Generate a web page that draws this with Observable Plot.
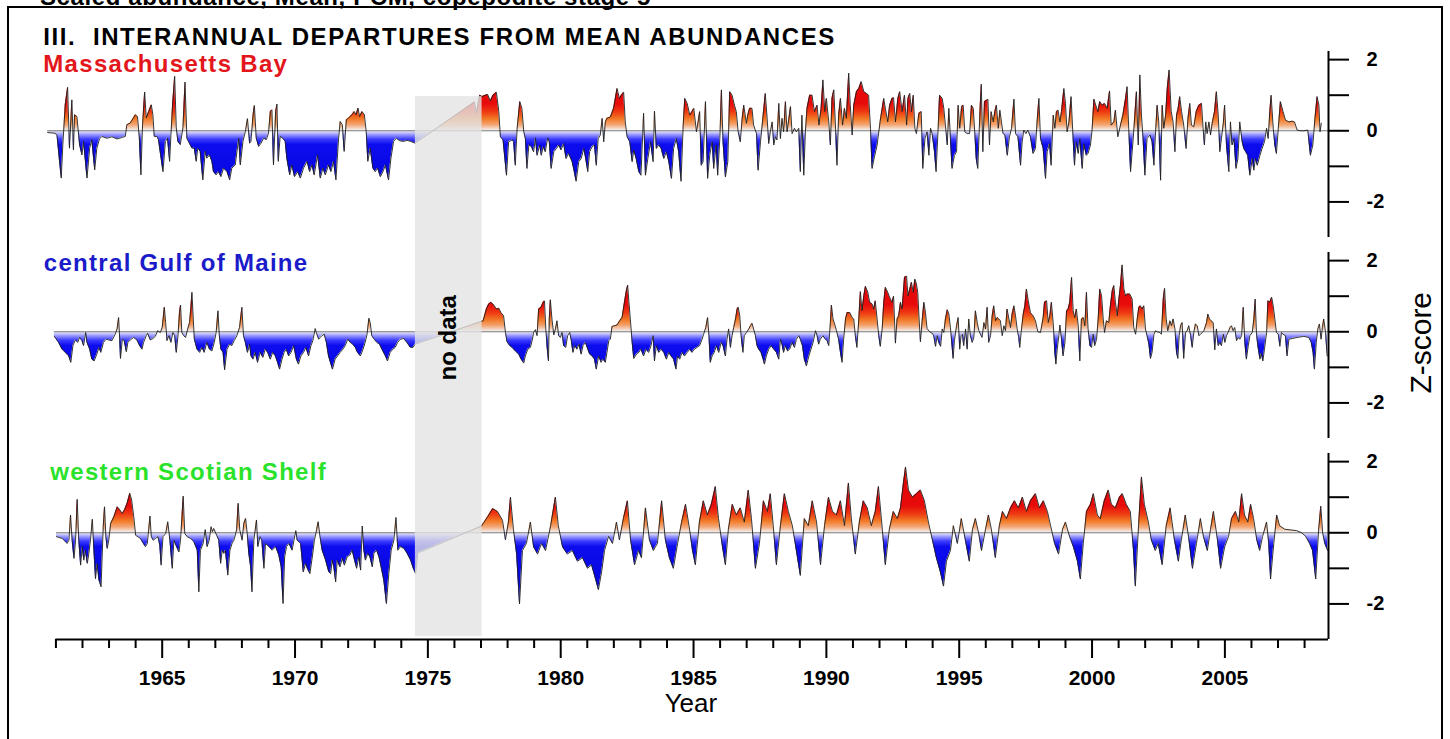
<!DOCTYPE html>
<html>
<head>
<meta charset="utf-8">
<script src="https://cdn.jsdelivr.net/npm/d3@7"></script>
<script src="https://cdn.jsdelivr.net/npm/@observablehq/plot@0.6"></script>
<style>
  html, body { margin: 0; padding: 0; background: #fff; }
  #page { position: relative; width: 1450px; height: 739px; overflow: hidden; font-family: "Liberation Sans", Arial, sans-serif; }
  #frame { position: absolute; left: 7px; top: 6px; width: 1436px; height: 800px; border: 2px solid #000; box-sizing: border-box; pointer-events: none; }
  #chart { position: absolute; left: 0; top: 0; }
  #header { position: absolute; left: 40px; top: -15px; font-size: 24px; line-height: 1; font-weight: bold; letter-spacing: 0.6px; white-space: nowrap; color: #000; }
</style>
</head>
<body>
<div id="page">
  <div id="header">Scaled abundance, Mean, PCM, copepodite stage 5</div>
  <div id="chart"></div>
  <div id="frame"></div>
</div>
<script>
// ---- data -------------------------------------------------------------
const panels = ["Massachusetts Bay", "central Gulf of Maine", "western Scotian Shelf"];
const panelColors = ["#e3171b", "#1b1bc9", "#2be22b"];
const gapYears = [1974.53, 1977.04];           // period without samples
const yTicks = [-2, -1, 0, 1, 2];
const yLabelTicks = [-2, 0, 2];
const majorYears = [1965, 1970, 1975, 1980, 1985, 1990, 1995, 2000, 2005];
const firstYear = 1961;
const lastYear = 2008.9;

// Z-score departures, [decimal year, z]
const massBay = [
  [1960.69,-0.05],[1960.97,-0.07],[1961.04,-0.13],[1961.20,-1.33],[1961.26,-0.39],[1961.35,0.73],[1961.44,1.22],[1961.51,-0.49],[1961.60,0.87],[1961.66,-0.54],[1961.70,0.45],[1961.79,0.40],[1961.89,-0.39],[1961.98,-0.68],[1962.04,-0.30],[1962.17,-1.33],[1962.27,-0.49],[1962.35,-0.25],[1962.46,-1.10],[1962.54,-0.49],[1962.64,-0.23],[1962.73,-0.16],[1962.92,-0.21],[1963.11,-0.17],[1963.30,-0.23],[1963.48,-0.19],[1963.61,-0.16],[1963.67,0.17],[1963.80,0.22],[1963.99,0.45],[1964.07,0.40],[1964.14,-0.21],[1964.20,-1.24],[1964.26,0.17],[1964.34,1.09],[1964.40,0.36],[1964.49,0.54],[1964.59,0.73],[1964.65,0.45],[1964.70,-0.16],[1964.80,-0.16],[1964.86,-0.25],[1965.03,-1.15],[1965.12,-0.30],[1965.20,-0.21],[1965.28,-0.86],[1965.33,-0.11],[1965.39,0.73],[1965.47,1.53],[1965.53,0.08],[1965.59,-0.30],[1965.68,-0.39],[1965.78,0.08],[1965.86,1.37],[1965.93,-0.21],[1965.99,-0.30],[1966.12,-0.49],[1966.21,-0.49],[1966.28,-0.86],[1966.34,-0.49],[1966.43,-0.58],[1966.53,-1.38],[1966.62,-0.58],[1966.68,-0.77],[1966.78,-0.68],[1966.87,-0.86],[1966.93,-1.15],[1967.03,-1.24],[1967.12,-1.15],[1967.21,-1.29],[1967.31,-1.05],[1967.44,-1.15],[1967.54,-1.38],[1967.62,-1.05],[1967.75,-0.96],[1967.88,-0.21],[1967.94,-0.96],[1968.04,-0.30],[1968.13,-0.02],[1968.21,0.34],[1968.29,-0.35],[1968.34,-0.30],[1968.42,0.45],[1968.47,0.71],[1968.54,-0.21],[1968.63,-0.44],[1968.72,-0.35],[1968.82,-0.21],[1968.92,-0.25],[1969.00,-0.07],[1969.07,0.54],[1969.13,0.59],[1969.19,-0.96],[1969.27,0.54],[1969.32,0.75],[1969.37,-0.86],[1969.44,-0.16],[1969.54,-0.21],[1969.63,-0.30],[1969.69,-0.77],[1969.80,-1.24],[1969.88,-0.96],[1969.98,-1.29],[1970.10,-1.15],[1970.20,-1.33],[1970.32,-1.05],[1970.45,-0.86],[1970.55,-1.15],[1970.64,-0.96],[1970.72,-1.24],[1970.85,-0.68],[1970.95,-1.33],[1971.05,-1.05],[1971.14,-1.24],[1971.26,-0.96],[1971.35,-1.15],[1971.45,-0.86],[1971.54,-1.38],[1971.64,-0.21],[1971.70,0.26],[1971.78,0.17],[1971.85,-0.58],[1971.93,0.31],[1972.02,0.36],[1972.14,0.45],[1972.23,0.54],[1972.30,0.45],[1972.37,0.64],[1972.43,0.40],[1972.52,0.54],[1972.61,0.45],[1972.68,-0.02],[1972.74,-0.86],[1972.83,-0.49],[1972.93,-1.05],[1973.02,-1.15],[1973.11,-1.05],[1973.21,-1.29],[1973.31,-1.15],[1973.40,-0.96],[1973.52,-1.38],[1973.61,-0.77],[1973.71,-0.30],[1973.81,-0.21],[1973.94,-0.28],[1974.09,-0.30],[1974.21,-0.27],[1974.36,-0.30],[1974.52,-0.35],
  [1976.75,0.81],[1976.83,0.50],[1976.95,1.00],[1977.04,0.96],[1977.16,1.00],[1977.25,1.02],[1977.35,0.84],[1977.45,1.00],[1977.58,1.08],[1977.67,0.54],[1977.73,-0.17],[1977.83,-0.26],[1977.96,-1.25],[1978.04,-0.31],[1978.17,-0.26],[1978.23,-0.31],[1978.29,-0.97],[1978.36,0.07],[1978.46,0.82],[1978.54,0.63],[1978.61,-0.03],[1978.67,-0.22],[1978.73,-1.06],[1978.80,-0.40],[1978.90,-0.45],[1978.98,-0.59],[1979.05,-0.20],[1979.11,-0.69],[1979.21,-0.40],[1979.27,-0.69],[1979.34,-0.45],[1979.42,-0.59],[1979.51,-0.20],[1979.57,-0.31],[1979.64,-1.06],[1979.74,-0.59],[1979.84,-0.50],[1979.93,-0.40],[1980.01,-0.54],[1980.11,-0.36],[1980.20,-0.78],[1980.30,-0.64],[1980.43,-0.87],[1980.51,-1.15],[1980.58,-1.42],[1980.68,-0.87],[1980.77,-0.78],[1980.87,-0.50],[1980.94,-0.78],[1981.02,-1.15],[1981.09,-0.59],[1981.18,-0.45],[1981.27,-0.40],[1981.34,-0.97],[1981.41,-0.22],[1981.49,-0.12],[1981.56,0.35],[1981.62,-0.31],[1981.68,0.25],[1981.74,0.35],[1981.87,0.39],[1981.99,0.63],[1982.12,1.19],[1982.21,0.91],[1982.28,1.00],[1982.37,1.08],[1982.43,0.25],[1982.50,-0.17],[1982.60,-0.31],[1982.69,-0.87],[1982.75,-0.54],[1982.84,-0.78],[1982.94,-1.15],[1983.02,-1.25],[1983.12,0.49],[1983.19,-1.25],[1983.28,-0.78],[1983.38,-0.31],[1983.48,-0.87],[1983.53,0.55],[1983.60,-0.50],[1983.69,-0.40],[1983.78,-0.50],[1983.88,-0.78],[1983.98,-0.59],[1984.07,-0.87],[1984.17,-1.34],[1984.25,-0.50],[1984.35,-0.22],[1984.44,-0.59],[1984.53,-1.42],[1984.61,0.16],[1984.67,0.91],[1984.76,0.77],[1984.86,0.44],[1984.94,0.54],[1985.01,0.63],[1985.11,-0.03],[1985.17,0.25],[1985.23,0.54],[1985.29,-0.97],[1985.36,-0.87],[1985.45,0.82],[1985.53,-1.34],[1985.61,-0.69],[1985.70,-0.31],[1985.76,-1.06],[1985.85,-0.40],[1985.91,-1.25],[1985.99,-0.22],[1986.05,1.15],[1986.11,-0.31],[1986.20,-1.30],[1986.29,-0.87],[1986.36,1.10],[1986.45,1.00],[1986.54,0.72],[1986.61,0.54],[1986.68,-0.03],[1986.76,-0.31],[1986.83,0.35],[1986.89,0.72],[1986.99,0.21],[1987.04,0.44],[1987.11,0.63],[1987.20,0.63],[1987.26,0.16],[1987.37,-0.08],[1987.43,-1.11],[1987.52,-0.31],[1987.62,0.44],[1987.70,1.05],[1987.77,0.35],[1987.83,-0.36],[1987.89,-0.03],[1987.96,0.25],[1988.02,-0.40],[1988.08,-0.17],[1988.14,-0.26],[1988.21,0.77],[1988.27,-0.22],[1988.33,0.35],[1988.39,-0.03],[1988.46,0.82],[1988.52,-0.03],[1988.58,0.30],[1988.65,0.68],[1988.71,-0.08],[1988.80,0.07],[1988.87,-0.03],[1988.96,0.07],[1989.02,-1.15],[1989.08,0.44],[1989.15,-1.25],[1989.21,-0.03],[1989.27,0.63],[1989.37,1.00],[1989.46,1.00],[1989.55,0.54],[1989.65,0.72],[1989.72,0.16],[1989.80,0.63],[1989.87,1.43],[1989.94,0.54],[1990.00,0.91],[1990.09,0.25],[1990.15,-0.40],[1990.21,0.91],[1990.28,1.15],[1990.34,0.16],[1990.40,-0.97],[1990.46,0.44],[1990.53,0.91],[1990.61,0.16],[1990.68,0.63],[1990.75,0.35],[1990.84,1.62],[1990.90,0.72],[1990.97,-0.12],[1991.03,0.72],[1991.13,1.10],[1991.22,1.19],[1991.31,1.38],[1991.41,1.10],[1991.51,1.05],[1991.59,1.00],[1991.66,0.07],[1991.72,-1.06],[1991.81,-0.73],[1991.91,-0.40],[1992.03,0.30],[1992.16,0.91],[1992.22,0.63],[1992.31,0.25],[1992.38,0.72],[1992.47,0.91],[1992.53,0.93],[1992.60,0.25],[1992.69,0.91],[1992.76,1.10],
  [1992.85,0.54],[1992.94,1.00],[1993.02,0.16],[1993.07,0.91],[1993.14,1.05],[1993.20,0.54],[1993.27,1.00],[1993.33,0.07],[1993.39,-0.08],[1993.48,0.49],[1993.57,0.54],[1993.63,-1.06],[1993.71,-0.22],[1993.79,-0.03],[1993.86,-0.69],[1993.92,0.07],[1993.98,-0.08],[1994.07,-0.59],[1994.13,-1.15],[1994.20,-0.03],[1994.26,1.00],[1994.36,0.91],[1994.42,0.63],[1994.48,0.16],[1994.55,-0.40],[1994.61,0.63],[1994.67,-0.22],[1994.73,-1.06],[1994.82,-0.69],[1994.90,-0.59],[1994.96,0.72],[1995.02,0.07],[1995.09,0.68],[1995.15,0.72],[1995.21,-0.03],[1995.30,-0.08],[1995.39,-0.08],[1995.46,0.72],[1995.53,0.63],[1995.58,0.02],[1995.64,-0.78],[1995.70,-1.06],[1995.78,0.54],[1995.83,1.31],[1995.89,-0.59],[1995.95,0.82],[1996.03,0.86],[1996.08,0.88],[1996.14,-0.40],[1996.20,0.54],[1996.28,0.25],[1996.34,0.54],[1996.40,0.72],[1996.47,0.07],[1996.53,0.58],[1996.59,0.25],[1996.65,-0.08],[1996.72,-0.12],[1996.81,-0.69],[1996.89,-0.17],[1996.97,0.07],[1997.06,0.89],[1997.12,-0.08],[1997.21,-0.17],[1997.31,-0.97],[1997.37,-0.31],[1997.43,0.02],[1997.51,-0.08],[1997.58,0.02],[1997.68,-0.17],[1997.78,-0.64],[1997.87,-0.50],[1997.93,0.25],[1998.00,0.91],[1998.06,-0.22],[1998.16,-0.50],[1998.25,-1.34],[1998.31,-0.59],[1998.40,-0.36],[1998.46,-0.97],[1998.54,0.44],[1998.60,0.07],[1998.66,0.54],[1998.72,0.58],[1998.79,0.25],[1998.85,0.54],[1998.94,1.19],[1999.00,0.77],[1999.06,-0.03],[1999.13,0.25],[1999.21,0.96],[1999.28,-0.12],[1999.34,-0.97],[1999.40,-0.31],[1999.48,-0.64],[1999.54,-0.22],[1999.63,-1.06],[1999.69,-0.36],[1999.78,-0.69],[1999.85,-0.64],[1999.94,-0.40],[2000.00,0.02],[2000.07,0.89],[2000.14,0.72],[2000.22,0.54],[2000.29,0.82],[2000.38,0.72],[2000.47,0.77],[2000.57,0.63],[2000.66,1.12],[2000.72,0.16],[2000.82,0.25],[2000.88,0.58],[2000.97,-0.17],[2001.07,0.16],[2001.16,0.44],[2001.26,0.91],[2001.32,1.24],[2001.38,0.07],[2001.45,-1.15],[2001.54,-0.31],[2001.61,0.44],[2001.67,1.10],[2001.74,-0.40],[2001.80,1.57],[2001.86,0.44],[2001.92,-0.22],[2001.99,-1.25],[2002.07,-0.22],[2002.18,-0.12],[2002.26,-0.31],[2002.33,-0.97],[2002.39,-0.03],[2002.45,0.72],[2002.51,0.25],[2002.58,-1.39],[2002.64,0.72],[2002.70,0.07],[2002.77,0.44],[2002.83,1.19],[2002.90,1.71],[2002.98,0.54],[2003.05,0.25],[2003.12,-0.59],[2003.18,0.44],[2003.24,0.63],[2003.30,0.96],[2003.37,0.54],[2003.45,0.16],[2003.54,-0.50],[2003.61,0.35],[2003.68,0.77],[2003.74,0.16],[2003.83,0.11],[2003.92,0.54],[2004.02,0.72],[2004.12,0.77],[2004.18,0.07],[2004.23,-0.40],[2004.28,0.25],[2004.33,-0.08],[2004.40,0.25],[2004.46,-0.12],[2004.52,0.21],[2004.61,0.54],[2004.68,1.10],[2004.75,0.44],[2004.81,-0.59],[2004.87,-0.22],[2004.94,0.21],[2004.99,0.72],[2005.06,-0.40],[2005.15,-1.15],[2005.21,0.25],[2005.27,-0.40],[2005.34,-0.22],[2005.42,-1.06],[2005.49,-0.78],[2005.56,0.25],[2005.65,-0.31],[2005.71,-0.50],[2005.78,-0.59],[2005.86,-0.69],[2005.94,-1.25],[2006.03,-0.78],[2006.09,-1.11],[2006.15,-0.78],[2006.22,-0.97],[2006.32,-0.69],[2006.40,-0.50],[2006.49,-0.31],[2006.57,0.07],[2006.63,-0.22],[2006.69,0.54],[2006.74,1.00],[2006.82,0.07],[2006.88,-0.40],[2006.94,-0.64],[2007.01,0.07],[2007.09,0.82],[2007.19,0.54],[2007.28,0.30],[2007.41,0.25],[2007.53,0.27],[2007.62,0.25],[2007.72,0.02],[2007.85,0.00],[2007.97,0.00],[2008.12,0.02],[2008.22,-0.69],[2008.31,-0.40],[2008.39,0.35],[2008.47,0.96],[2008.54,0.72],[2008.58,-0.03],[2008.63,0.21]
];

const gulfMaine = [
  [1960.94,-0.13],[1961.10,-0.30],[1961.23,-0.49],[1961.35,-0.58],[1961.48,-0.68],[1961.56,-0.86],[1961.64,-0.39],[1961.73,-0.23],[1961.82,-0.30],[1961.89,-0.16],[1961.98,-0.25],[1962.04,-0.39],[1962.12,-0.02],[1962.17,-0.30],[1962.27,-0.49],[1962.35,-0.77],[1962.44,-0.82],[1962.54,-0.63],[1962.62,-0.44],[1962.69,-0.58],[1962.79,-0.30],[1962.89,-0.21],[1962.98,-0.23],[1963.11,-0.25],[1963.23,-0.07],[1963.30,0.08],[1963.36,0.40],[1963.40,-0.21],[1963.43,-0.75],[1963.50,-0.21],[1963.57,-0.25],[1963.65,-0.56],[1963.71,-0.30],[1963.80,-0.23],[1963.92,-0.16],[1964.05,-0.23],[1964.15,-0.39],[1964.24,-0.49],[1964.30,-0.30],[1964.40,-0.11],[1964.45,-0.04],[1964.55,-0.23],[1964.65,-0.19],[1964.74,-0.13],[1964.83,0.03],[1964.93,-0.02],[1965.00,0.12],[1965.08,0.69],[1965.13,0.26],[1965.18,-0.25],[1965.25,-0.11],[1965.33,-0.30],[1965.40,-0.02],[1965.47,-0.11],[1965.53,-0.58],[1965.59,-0.16],[1965.65,0.54],[1965.69,0.75],[1965.74,-0.02],[1965.81,-0.11],[1965.88,-0.16],[1965.96,0.08],[1966.03,0.26],[1966.08,0.69],[1966.12,1.11],[1966.17,0.36],[1966.21,-0.21],[1966.31,-0.49],[1966.41,-0.58],[1966.50,-0.44],[1966.58,-0.58],[1966.68,-0.30],[1966.78,-0.49],[1966.87,-0.54],[1966.96,-0.30],[1967.03,-0.02],[1967.10,0.59],[1967.15,-0.11],[1967.21,-0.49],[1967.29,-0.58],[1967.35,-1.07],[1967.44,-0.49],[1967.54,-0.35],[1967.62,-0.39],[1967.71,-0.25],[1967.81,-0.11],[1967.91,0.12],[1968.00,0.69],[1968.06,-0.11],[1968.13,-0.30],[1968.21,-0.58],[1968.29,-0.35],[1968.34,-0.68],[1968.42,-0.77],[1968.50,-0.58],[1968.59,-0.86],[1968.69,-0.58],[1968.79,-0.72],[1968.88,-0.49],[1968.97,-0.58],[1969.07,-0.77],[1969.16,-0.58],[1969.26,-0.68],[1969.34,-0.86],[1969.42,-1.05],[1969.51,-0.77],[1969.59,-0.58],[1969.67,-0.49],[1969.76,-0.68],[1969.85,-0.58],[1969.95,-0.39],[1970.05,-0.77],[1970.13,-0.91],[1970.22,-0.68],[1970.32,-0.58],[1970.41,-0.44],[1970.51,-0.68],[1970.60,-0.39],[1970.67,-0.25],[1970.76,0.09],[1970.80,-0.02],[1970.89,-0.21],[1970.95,-0.16],[1971.01,-0.11],[1971.10,-0.07],[1971.18,-0.30],[1971.26,-0.68],[1971.33,-0.86],[1971.41,-1.05],[1971.51,-0.77],[1971.60,-0.68],[1971.70,-0.58],[1971.80,-0.49],[1971.89,-0.39],[1971.98,-0.21],[1972.08,-0.30],[1972.17,-0.35],[1972.27,-0.44],[1972.35,-0.58],[1972.46,-0.68],[1972.56,-0.49],[1972.64,-0.30],[1972.71,-0.07],[1972.78,0.38],[1972.83,0.26],[1972.89,-0.11],[1972.98,-0.21],[1973.08,-0.30],[1973.18,-0.35],[1973.27,-0.49],[1973.40,-0.68],[1973.48,-0.82],[1973.58,-0.58],[1973.68,-0.49],[1973.77,-0.44],[1973.86,-0.30],[1973.96,-0.21],[1974.09,-0.19],[1974.21,-0.30],[1974.34,-0.44],[1974.44,-0.44],[1974.52,-0.35],
  [1977.08,0.31],[1977.20,0.64],[1977.29,0.78],[1977.38,0.83],[1977.48,0.75],[1977.58,0.64],[1977.67,0.66],[1977.75,0.54],[1977.85,0.45],[1977.92,-0.02],[1977.98,-0.28],[1978.08,-0.39],[1978.17,-0.44],[1978.29,-0.54],[1978.42,-0.63],[1978.51,-0.77],[1978.61,-0.88],[1978.67,-0.68],[1978.76,-0.49],[1978.86,-0.44],[1978.93,-0.23],[1978.98,-0.02],[1979.05,0.06],[1979.11,-0.11],[1979.17,0.64],[1979.26,0.69],[1979.34,0.83],[1979.39,0.87],[1979.44,0.08],[1979.49,-0.44],[1979.54,-0.82],[1979.57,0.36],[1979.61,0.90],[1979.67,0.36],[1979.74,-0.09],[1979.80,0.08],[1979.86,0.31],[1979.92,-0.11],[1979.99,-0.16],[1980.05,-0.02],[1980.11,-0.39],[1980.19,-0.44],[1980.26,-0.11],[1980.34,-0.02],[1980.40,-0.25],[1980.46,-0.58],[1980.53,-0.39],[1980.61,-0.49],[1980.69,-0.35],[1980.77,-0.63],[1980.84,-0.39],[1980.93,-0.30],[1981.02,-0.49],[1981.09,-0.63],[1981.18,-0.68],[1981.27,-0.77],[1981.34,-1.05],[1981.43,-0.68],[1981.52,-0.86],[1981.59,-0.77],[1981.68,-0.86],[1981.74,-0.58],[1981.81,-0.25],[1981.87,-0.21],[1981.93,0.15],[1982.02,0.17],[1982.12,0.19],[1982.22,0.31],[1982.31,0.40],[1982.40,0.83],[1982.46,1.11],[1982.52,1.31],[1982.57,0.83],[1982.62,0.36],[1982.69,-0.30],[1982.75,-0.75],[1982.85,-0.63],[1982.94,-0.58],[1983.02,-0.49],[1983.12,-0.68],[1983.21,-0.49],[1983.31,-0.58],[1983.40,-0.39],[1983.48,-0.11],[1983.53,-0.82],[1983.60,-0.39],[1983.69,-0.58],[1983.78,-0.49],[1983.88,-0.58],[1983.98,-0.77],[1984.07,-0.58],[1984.15,-0.68],[1984.25,-0.77],[1984.34,-1.05],[1984.40,-0.68],[1984.48,-0.77],[1984.57,-0.58],[1984.66,-0.68],[1984.76,-0.58],[1984.86,-0.49],[1984.94,-0.58],[1985.03,-0.49],[1985.13,-0.44],[1985.23,-0.39],[1985.32,-0.21],[1985.38,-0.07],[1985.46,0.12],[1985.53,0.40],[1985.58,-0.11],[1985.63,-0.86],[1985.70,-0.68],[1985.78,-0.58],[1985.86,-0.39],[1985.95,-0.58],[1986.04,-0.30],[1986.11,-0.39],[1986.20,-0.68],[1986.26,-0.21],[1986.32,0.08],[1986.39,-0.44],[1986.45,-0.11],[1986.51,0.12],[1986.58,0.36],[1986.64,0.64],[1986.68,0.69],[1986.74,0.45],[1986.79,-0.11],[1986.86,-0.58],[1986.91,-0.11],[1986.99,-0.02],[1987.08,0.08],[1987.14,0.17],[1987.20,0.24],[1987.26,0.08],[1987.33,-0.11],[1987.39,-0.39],[1987.45,-0.49],[1987.54,-0.58],[1987.62,-0.77],[1987.67,-0.91],[1987.74,-0.68],[1987.83,-0.49],[1987.92,-0.39],[1988.02,-0.49],[1988.12,-0.58],[1988.21,-0.77],[1988.27,-0.21],[1988.33,-0.35],[1988.39,-0.58],[1988.46,-0.39],[1988.54,-0.54],[1988.62,-0.49],[1988.71,-0.30],[1988.80,-0.44],[1988.87,-0.21],[1988.96,-0.11],[1989.02,-0.21],[1989.10,-0.39],[1989.17,-0.77],[1989.25,-0.96],[1989.34,-0.68],[1989.42,-0.49],[1989.50,-0.30],[1989.59,0.03],[1989.65,-0.11],[1989.71,-0.35],[1989.77,-0.21],[1989.87,-0.11],[1989.96,-0.21],[1990.03,-0.25],[1990.09,-0.39],[1990.15,0.26],[1990.19,0.75],[1990.25,0.36],[1990.31,0.22],[1990.38,0.03],[1990.46,-0.21],[1990.53,-0.58],[1990.59,-0.86],[1990.65,-0.21],[1990.72,0.36],[1990.78,0.54],[1990.88,0.54],[1990.97,0.40],[1991.03,0.36],[1991.09,-0.11],[1991.15,-0.44],[1991.22,0.36],[1991.28,1.13],[1991.34,0.59],[1991.41,1.01],[1991.47,1.28],[1991.56,1.11],[1991.63,0.83],[1991.72,0.78],[1991.78,0.64],[1991.84,0.87],[1991.91,0.36],[1991.97,-0.11],[1992.03,-0.41],[1992.10,0.08],[1992.16,0.83],[1992.22,1.25],[1992.31,1.11],[1992.38,0.97],[1992.47,0.83],[1992.53,1.00],[1992.60,-0.32],[1992.66,0.36],[1992.72,0.45],[1992.79,0.83],
  [1992.85,0.64],[1992.94,1.53],[1993.02,1.56],[1993.07,1.01],[1993.14,1.20],[1993.20,1.39],[1993.27,1.11],[1993.33,1.48],[1993.39,1.34],[1993.44,1.11],[1993.49,0.36],[1993.54,-0.28],[1993.61,0.36],[1993.67,0.83],[1993.73,0.54],[1993.79,0.09],[1993.89,0.00],[1993.98,-0.04],[1994.04,-0.11],[1994.11,-0.41],[1994.17,-0.11],[1994.23,-0.30],[1994.30,-0.41],[1994.36,0.08],[1994.42,-0.02],[1994.48,0.36],[1994.55,0.62],[1994.61,0.50],[1994.67,0.12],[1994.73,-0.39],[1994.77,-0.75],[1994.82,-0.25],[1994.90,0.17],[1994.96,0.40],[1995.02,-0.49],[1995.07,-0.11],[1995.12,-0.07],[1995.17,-0.39],[1995.24,0.08],[1995.30,-0.49],[1995.36,0.36],[1995.42,-0.11],[1995.49,-0.30],[1995.55,-0.16],[1995.61,0.59],[1995.68,0.26],[1995.74,0.03],[1995.80,-0.07],[1995.86,-0.16],[1995.93,0.26],[1995.99,0.08],[1996.05,0.69],[1996.11,-0.30],[1996.18,-0.11],[1996.24,0.45],[1996.30,0.73],[1996.37,0.31],[1996.43,0.40],[1996.49,0.36],[1996.55,0.31],[1996.62,-0.11],[1996.68,0.17],[1996.74,0.03],[1996.80,0.64],[1996.87,0.36],[1996.93,0.12],[1996.99,0.50],[1997.06,0.73],[1997.12,0.45],[1997.18,0.08],[1997.24,-0.16],[1997.28,-0.44],[1997.33,-0.02],[1997.41,0.50],[1997.47,0.73],[1997.53,1.20],[1997.60,0.87],[1997.68,0.54],[1997.78,0.45],[1997.87,0.31],[1997.96,0.00],[1998.06,-0.02],[1998.16,0.40],[1998.21,0.83],[1998.29,0.87],[1998.35,0.26],[1998.41,0.45],[1998.47,0.83],[1998.54,0.22],[1998.60,-0.58],[1998.64,-0.91],[1998.69,-0.49],[1998.75,-0.11],[1998.79,0.19],[1998.85,-0.21],[1998.91,-0.68],[1998.98,-0.30],[1999.04,0.59],[1999.10,0.64],[1999.16,0.83],[1999.23,1.53],[1999.29,0.59],[1999.35,0.40],[1999.41,0.64],[1999.48,0.17],[1999.54,-0.82],[1999.60,0.36],[1999.67,0.40],[1999.73,0.17],[1999.79,1.11],[1999.85,0.08],[1999.92,-0.39],[1999.98,-0.44],[2000.04,-0.07],[2000.10,-0.39],[2000.17,-0.21],[2000.23,0.36],[2000.29,1.20],[2000.36,1.01],[2000.42,0.36],[2000.47,-0.02],[2000.54,0.31],[2000.63,0.26],[2000.69,0.73],[2000.76,1.15],[2000.82,1.30],[2000.88,0.83],[2000.95,0.45],[2001.01,0.92],[2001.07,1.30],[2001.13,1.88],[2001.20,1.20],[2001.26,1.01],[2001.32,1.06],[2001.42,1.06],[2001.51,0.92],[2001.57,0.12],[2001.64,-0.07],[2001.70,0.36],[2001.76,0.69],[2001.82,0.73],[2001.89,0.64],[2001.95,0.73],[2002.01,0.08],[2002.07,-0.11],[2002.14,-0.35],[2002.20,-0.75],[2002.26,-0.58],[2002.33,-0.07],[2002.39,0.03],[2002.45,0.00],[2002.55,-0.02],[2002.61,-0.07],[2002.68,0.92],[2002.73,1.22],[2002.79,0.36],[2002.85,0.03],[2002.93,0.31],[2002.99,0.17],[2003.05,0.36],[2003.12,0.08],[2003.18,-0.58],[2003.23,-0.75],[2003.28,-0.11],[2003.33,0.17],[2003.39,0.26],[2003.45,-0.75],[2003.52,-0.02],[2003.58,0.03],[2003.64,0.17],[2003.71,-0.11],[2003.77,-0.44],[2003.83,-0.02],[2003.89,0.22],[2003.96,0.17],[2004.02,-0.11],[2004.08,-0.07],[2004.15,-0.02],[2004.21,0.03],[2004.31,0.26],[2004.36,0.50],[2004.42,0.36],[2004.48,0.31],[2004.56,0.26],[2004.62,-0.51],[2004.68,0.08],[2004.75,-0.39],[2004.81,-0.30],[2004.87,-0.39],[2004.94,-0.07],[2005.00,-0.30],[2005.06,-0.11],[2005.12,-0.02],[2005.19,0.12],[2005.25,0.17],[2005.31,0.03],[2005.37,0.12],[2005.44,-0.25],[2005.50,-0.16],[2005.56,-0.21],[2005.63,-0.11],[2005.69,0.69],[2005.75,-0.30],[2005.81,-0.77],[2005.88,-0.39],[2005.94,-0.11],[2006.03,-0.02],[2006.09,0.36],[2006.14,0.92],[2006.19,-0.07],[2006.24,-0.39],[2006.32,-0.77],[2006.37,-0.60],[2006.43,-0.82],[2006.49,-0.49],[2006.57,-0.02],[2006.62,0.87],[2006.69,0.83],[2006.76,0.97],[2006.82,0.73],[2006.88,0.36],[2006.94,-0.02],[2007.01,-0.07],[2007.07,-0.41],[2007.13,-0.02],[2007.19,-0.07],[2007.28,-0.11],[2007.34,-0.68],[2007.41,-0.21],[2007.53,-0.19],[2007.72,-0.16],[2007.97,-0.13],[2008.16,-0.16],[2008.25,-0.30],[2008.32,-0.58],[2008.37,-1.05],[2008.44,-0.30],[2008.50,0.08],[2008.56,0.22],[2008.62,-0.21],[2008.67,0.12],[2008.72,0.36],[2008.79,-0.02],[2008.85,-0.68]
];

const scotianShelf = [
  [1961.02,-0.11],[1961.24,-0.16],[1961.42,-0.30],[1961.49,-0.21],[1961.55,0.50],[1961.61,-0.21],[1961.68,-0.72],[1961.74,-0.21],[1961.80,0.94],[1961.86,-0.21],[1961.93,-0.91],[1961.99,-0.39],[1962.05,-0.77],[1962.11,-0.49],[1962.18,-0.86],[1962.24,-0.58],[1962.30,-0.21],[1962.37,0.38],[1962.43,-0.49],[1962.49,-1.29],[1962.55,-0.86],[1962.62,-1.33],[1962.70,-1.52],[1962.78,0.17],[1962.83,0.73],[1962.88,-0.11],[1962.93,-0.44],[1962.99,-0.21],[1963.06,0.26],[1963.18,0.45],[1963.31,0.73],[1963.41,0.64],[1963.50,0.54],[1963.58,0.64],[1963.68,0.83],[1963.78,1.11],[1963.85,0.92],[1963.93,0.45],[1964.00,-0.07],[1964.08,-0.11],[1964.18,-0.16],[1964.29,-0.30],[1964.37,-0.39],[1964.44,-0.30],[1964.54,0.47],[1964.59,-0.11],[1964.66,-0.21],[1964.75,-0.16],[1964.84,-0.11],[1964.91,-0.35],[1964.96,-0.91],[1965.03,-0.11],[1965.13,-0.02],[1965.21,0.31],[1965.29,-0.21],[1965.38,-1.00],[1965.44,-0.21],[1965.54,-0.39],[1965.63,-0.54],[1965.69,-0.21],[1965.79,1.03],[1965.85,-0.02],[1965.94,-0.11],[1966.07,-0.16],[1966.19,-0.25],[1966.32,-0.49],[1966.38,-1.66],[1966.44,-0.49],[1966.54,-0.30],[1966.62,0.09],[1966.69,-0.39],[1966.77,-0.21],[1966.84,0.17],[1966.89,0.03],[1966.94,0.12],[1967.05,-0.07],[1967.13,-0.21],[1967.20,-0.86],[1967.26,-0.49],[1967.32,-0.58],[1967.38,-0.49],[1967.47,-1.19],[1967.55,-0.49],[1967.63,-0.30],[1967.70,-0.21],[1967.80,0.08],[1967.86,0.83],[1967.92,0.08],[1968.01,-0.21],[1968.07,0.26],[1968.14,0.40],[1968.20,-0.02],[1968.26,-0.58],[1968.33,-0.96],[1968.38,-1.66],[1968.45,-0.21],[1968.55,0.36],[1968.60,-0.39],[1968.68,-0.11],[1968.75,-0.21],[1968.83,-1.00],[1968.89,-0.30],[1969.02,-0.39],[1969.14,-0.49],[1969.27,-0.39],[1969.39,-0.63],[1969.48,-0.96],[1969.55,-1.99],[1969.61,-0.68],[1969.68,-0.39],[1969.77,-0.30],[1969.89,-0.49],[1969.96,-0.21],[1970.03,0.06],[1970.08,-0.21],[1970.21,-0.30],[1970.31,-1.10],[1970.40,-0.86],[1970.46,-1.00],[1970.56,-1.15],[1970.65,-0.68],[1970.73,-0.21],[1970.81,0.08],[1970.87,0.31],[1970.94,-0.11],[1971.02,-0.49],[1971.15,-0.77],[1971.27,-1.10],[1971.34,-1.15],[1971.40,-0.77],[1971.46,-0.96],[1971.53,-1.38],[1971.59,-0.77],[1971.69,-0.96],[1971.78,-0.72],[1971.86,-0.91],[1971.96,-0.68],[1972.06,-0.63],[1972.15,-0.49],[1972.24,-0.77],[1972.32,-1.00],[1972.40,-0.68],[1972.47,-1.05],[1972.53,0.19],[1972.59,-0.49],[1972.65,-0.77],[1972.74,-0.58],[1972.82,-0.68],[1972.91,-0.96],[1972.97,-0.58],[1973.07,-0.49],[1973.16,-0.68],[1973.24,-0.96],[1973.34,-1.33],[1973.44,-1.99],[1973.53,-1.15],[1973.62,-0.49],[1973.72,-0.21],[1973.80,0.43],[1973.87,-0.49],[1973.97,-0.39],[1974.10,-0.44],[1974.22,-0.58],[1974.35,-0.77],[1974.45,-1.00],[1974.54,-1.15],[1974.62,-0.60],[1974.68,-0.55],
  [1977.02,0.19],[1977.25,0.45],[1977.44,0.68],[1977.62,0.60],[1977.81,0.35],[1977.92,-0.20],[1978.03,0.30],[1978.11,1.00],[1978.22,0.10],[1978.34,-0.60],[1978.45,-2.00],[1978.56,-0.50],[1978.71,-0.30],[1978.86,0.30],[1978.98,-0.40],[1979.13,-0.60],[1979.28,-0.30],[1979.43,-0.50],[1979.62,0.20],[1979.80,1.00],[1979.91,0.20],[1980.07,-0.40],[1980.25,-0.60],[1980.44,-0.50],[1980.63,-0.80],[1980.82,-0.70],[1981.01,-1.00],[1981.16,-0.90],[1981.31,-1.30],[1981.42,-1.60],[1981.54,-1.10],[1981.65,-0.50],[1981.80,-0.10],[1981.95,-0.30],[1982.10,0.30],[1982.21,-0.20],[1982.36,0.40],[1982.51,0.90],[1982.63,-0.20],[1982.78,-0.90],[1982.93,-0.50],[1983.04,-0.70],[1983.19,0.70],[1983.34,-0.20],[1983.49,-0.50],[1983.64,-0.30],[1983.80,0.90],[1983.94,-0.20],[1984.09,-0.70],[1984.24,-1.00],[1984.40,-0.30],[1984.55,0.30],[1984.70,0.80],[1984.85,0.10],[1984.96,-0.50],[1985.07,-0.90],[1985.22,0.30],[1985.37,0.90],[1985.52,0.50],[1985.67,0.80],[1985.82,1.30],[1985.94,0.40],[1986.09,-0.40],[1986.20,-0.90],[1986.31,0.10],[1986.46,0.80],[1986.61,0.50],[1986.76,0.70],[1986.91,0.30],[1987.06,1.20],[1987.18,0.40],[1987.33,-1.00],[1987.48,-0.30],[1987.63,0.90],[1987.78,0.60],[1987.89,1.10],[1988.00,0.20],[1988.12,-0.90],[1988.27,0.20],[1988.42,1.10],[1988.57,0.60],[1988.72,0.20],[1988.87,-0.50],[1989.02,-1.20],[1989.17,0.40],[1989.32,0.20],[1989.47,0.90],[1989.63,0.30],[1989.78,-0.90],[1989.93,0.20],[1990.08,1.00],[1990.23,0.60],[1990.38,0.50],[1990.53,0.90],[1990.68,0.20],[1990.83,1.40],[1990.94,0.40],[1991.09,-0.60],[1991.24,0.30],[1991.39,0.90],[1991.54,0.70],[1991.69,0.20],[1991.84,0.60],[1991.96,1.30],[1992.07,0.40],[1992.22,-0.90],[1992.37,0.10],[1992.52,0.60],[1992.67,0.40],[1992.79,0.70],[1992.90,1.40],[1992.98,1.85],[1993.09,1.20],[1993.24,1.00],[1993.39,1.10],[1993.54,1.20],[1993.69,0.90],[1993.84,0.30],[1993.99,-0.20],[1994.14,-0.70],[1994.29,-1.10],[1994.41,-1.50],[1994.52,-0.80],[1994.67,-0.50],[1994.78,0.20],[1994.93,-0.30],[1995.08,0.40],[1995.23,-0.20],[1995.38,-0.80],[1995.50,0.10],[1995.61,0.40],[1995.73,0.00],[1995.84,-0.50],[1995.99,0.10],[1996.10,0.50],[1996.21,0.10],[1996.36,-0.70],[1996.51,0.20],[1996.63,0.60],[1996.78,0.40],[1996.93,0.70],[1997.08,0.90],[1997.23,0.70],[1997.38,1.00],[1997.53,0.60],[1997.68,0.90],[1997.87,1.10],[1998.02,0.70],[1998.17,0.90],[1998.32,0.60],[1998.44,0.20],[1998.59,-0.30],[1998.74,-0.60],[1998.89,0.10],[1999.00,0.30],[1999.15,-0.10],[1999.30,-0.40],[1999.45,-0.80],[1999.56,-1.30],[1999.67,-0.30],[1999.79,0.60],[1999.94,0.80],[2000.05,1.10],[2000.20,0.50],[2000.31,0.40],[2000.46,0.90],[2000.61,1.20],[2000.73,0.80],[2000.88,0.70],[2001.03,1.00],[2001.14,1.10],[2001.29,0.80],[2001.44,0.60],[2001.56,-0.50],[2001.63,-1.50],[2001.75,0.20],[2001.86,1.57],[2001.97,0.80],[2002.12,0.30],[2002.23,-0.20],[2002.38,-0.50],[2002.49,-0.30],[2002.64,-0.90],[2002.79,0.20],[2002.94,0.70],[2003.10,-0.20],[2003.25,-0.80],[2003.36,-0.20],[2003.51,0.50],[2003.63,-0.10],[2003.78,-1.00],[2003.93,-0.30],[2004.08,0.40],[2004.19,-0.10],[2004.34,-0.50],[2004.46,0.10],[2004.57,0.60],[2004.72,-0.20],[2004.84,-1.00],[2004.99,-0.40],[2005.14,-0.10],[2005.25,0.40],[2005.40,0.60],[2005.52,0.30],[2005.63,1.10],[2005.74,0.50],[2005.86,0.30],[2005.97,0.80],[2006.08,0.40],[2006.20,-0.20],[2006.31,-0.50],[2006.42,-0.10],[2006.57,0.30],[2006.65,-0.30],[2006.72,-1.30],[2006.84,-0.30],[2006.95,0.50],[2007.06,0.20],[2007.25,0.10],[2007.47,0.08],[2007.70,0.06],[2007.89,0.00],[2008.04,-0.10],[2008.19,-0.30],[2008.30,-0.50],[2008.42,-1.30],[2008.53,0.10],[2008.61,0.75],[2008.68,0.00],[2008.76,-0.30],[2008.87,-0.50]
];

// ---- chart ------------------------------------------------------------
const series = [massBay, gulfMaine, scotianShelf];
const rows = series.flatMap((s, i) => s.map(([year, z]) => ({panel: panels[i], year, z})));
const starts = series.map((s, i) => ({panel: panels[i], start: s[0][0]}));
const minorYears = d3.range(firstYear, 2009).filter(y => !majorYears.includes(y));

// shaded "no data" strip, one piece per panel so the pieces meet edge to edge
const strip = [
  {panel: panels[0], lo: -3, hi: 0.96},
  {panel: panels[1], lo: -3, hi: 2.65},
  {panel: panels[2], lo: -2.92, hi: 2.65}
];

const font = "'Liberation Sans', Arial, Helvetica, sans-serif";
const labelMark = (i, dx, dy) => Plot.text([{panel: panels[i]}], {
  fy: "panel", frameAnchor: "top-left", text: () => panels[i], fill: panelColors[i],
  fontSize: 24, fontWeight: "bold", textAnchor: "start", lineAnchor: "middle", dx, dy
});

const chart = Plot.plot({
  width: 1450,
  height: 739,
  marginTop: 35.8,
  marginBottom: 99.8,
  marginLeft: 44.8,
  marginRight: 122,
  style: {fontFamily: font, background: "transparent", overflow: "visible", color: "#000"},
  x: {domain: [1960.6, lastYear]},
  y: {domain: [-3, 2.65]},
  fy: {domain: panels, padding: 0, axis: null},
  marks: [
    Plot.areaY(rows, {x: "year", y: "z", fy: "panel", fill: "url(#zfill)", curve: "linear"}),
    Plot.ruleY(starts, {fy: "panel", y: () => 0, x1: "start", x2: () => lastYear, stroke: "#7a7a7a", strokeWidth: 1.2}),
    Plot.lineY(rows, {x: "year", y: "z", fy: "panel", stroke: "#1e1e1e", strokeWidth: 0.9, curve: "linear"}),
    Plot.rect(strip, {fy: "panel", x1: () => gapYears[0], x2: () => gapYears[1], y1: "lo", y2: "hi", fill: "#e3e3e3", fillOpacity: 0.8}),
    Plot.text([{panel: panels[1]}], {fy: "panel", x: () => (gapYears[0] + gapYears[1]) / 2, y: () => 0, text: () => "no data",
      rotate: -90, fontSize: 24, fontWeight: "bold", fill: "#000", textAnchor: "middle", lineAnchor: "middle", dy: 6}),
    // right-hand z-score axis in every panel
    Plot.ruleX([lastYear], {y1: -3, y2: 2.23, stroke: "#000", strokeWidth: 2}),
    Plot.axisY({anchor: "right", ticks: yTicks, tickSize: 20, tickPadding: 18, strokeWidth: 2,
      tickFormat: d => yLabelTicks.includes(d) ? String(d) : "", label: null,
      fontSize: 20, fontWeight: "bold"}),
    // year axis under the last panel
    Plot.ruleY([{panel: panels[2]}], {fy: "panel", y: () => -3, x1: () => firstYear, x2: () => lastYear, stroke: "#000", strokeWidth: 2}),
    Plot.axisX({anchor: "bottom", ticks: minorYears, tickSize: 9, tickFormat: () => "", strokeWidth: 2, label: null}),
    Plot.axisX({anchor: "bottom", ticks: majorYears, tickSize: 19, tickPadding: 12, strokeWidth: 2,
      tickFormat: d => String(d), label: null, fontSize: 21, fontWeight: "bold"}),
    Plot.text([{panel: panels[2]}], {fy: "panel", frameAnchor: "bottom", text: () => "Year", fontSize: 26,
      lineAnchor: "middle", dx: 4, dy: 64}),
    Plot.text([{panel: panels[1]}], {fy: "panel", frameAnchor: "right", y: () => 0, text: () => "Z-score", fontSize: 30,
      rotate: -90, textAnchor: "middle", lineAnchor: "middle", dx: 93, dy: 11}),
    // headings
    Plot.text([{panel: panels[0]}], {fy: "panel", frameAnchor: "top-left",
      text: () => "III.\u00a0 INTERANNUAL DEPARTURES FROM MEAN ABUNDANCES", fill: "#000",
      fontSize: 24, fontWeight: "bold", textAnchor: "start", lineAnchor: "middle", dx: -2, dy: 1}),
    labelMark(0, -2, 27.5),
    labelMark(1, -1.5, 25.6),
    labelMark(2, 5, 33.7)
  ]
});

// vertical colour ramp for the departures: blue below zero, orange to red above
const zStops = [
  [2.65, "#e00000"], [0.75, "#e80b0b"], [0.52, "#ee3a12"], [0.32, "#f17a26"], [0.16, "#f3a573"],
  [0.05, "#f5d9c8"], [0, "#f3f0f3"], [-0.04, "#dadafb"], [-0.12, "#9a9aff"], [-0.25, "#3c3cff"],
  [-0.4, "#0c0cee"], [-3, "#0000cc"]
];
const ys = chart.scale("y");
const gy1 = ys.apply(2.65), gy2 = ys.apply(-3);
const ns = "http://www.w3.org/2000/svg";
const defs = document.createElementNS(ns, "defs");
const grad = document.createElementNS(ns, "linearGradient");
grad.setAttribute("id", "zfill");
grad.setAttribute("gradientUnits", "userSpaceOnUse");
grad.setAttribute("x1", 0); grad.setAttribute("x2", 0);
grad.setAttribute("y1", gy1); grad.setAttribute("y2", gy2);
for (const [v, c] of zStops) {
  const s = document.createElementNS(ns, "stop");
  s.setAttribute("offset", (ys.apply(v) - gy1) / (gy2 - gy1));
  s.setAttribute("stop-color", c);
  grad.append(s);
}
defs.append(grad);
chart.prepend(defs);

// slightly tracked headings
const heading = d3.select(chart).selectAll("text");
heading.filter(function () { return panels.includes(this.textContent); }).style("letter-spacing", "1.3px");
heading.filter(function () { return this.textContent.startsWith("III."); }).style("letter-spacing", "1.6px");

document.getElementById("chart").append(chart);
</script>
</body>
</html>
